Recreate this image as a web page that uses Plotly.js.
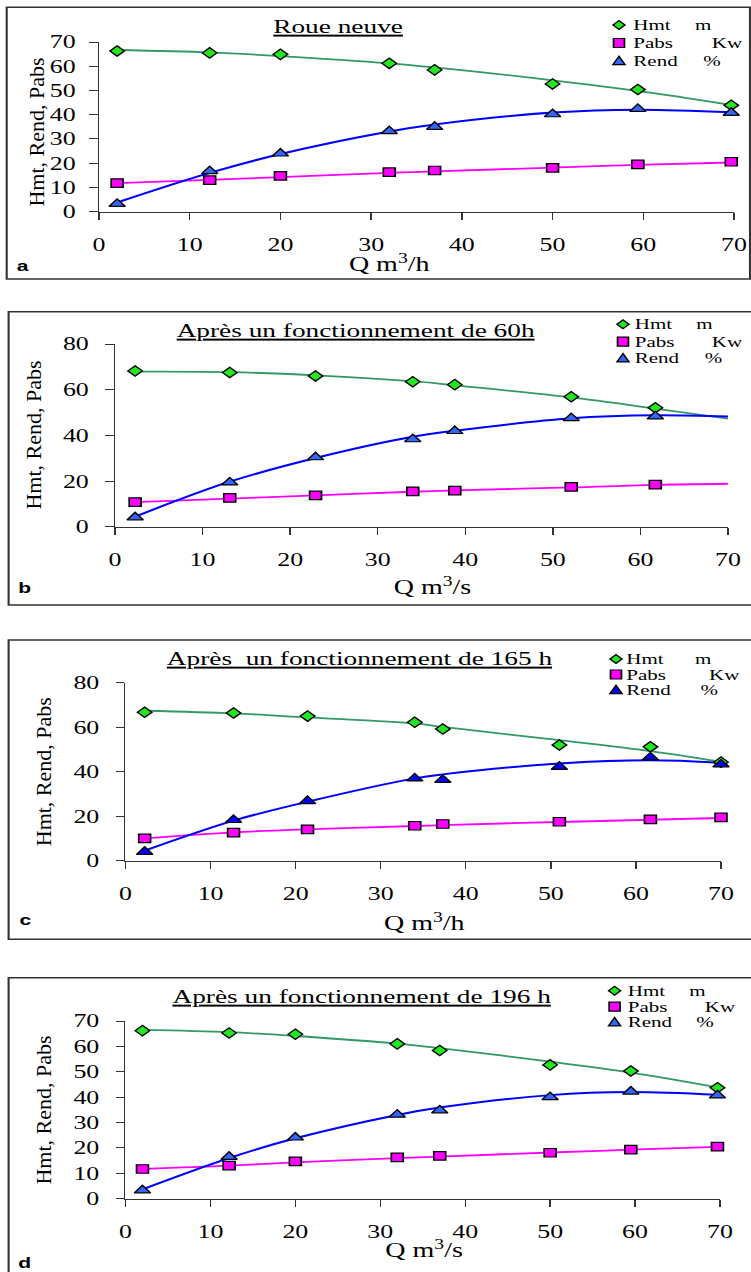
<!DOCTYPE html>
<html>
<head>
<meta charset="utf-8">
<script src="https://cdn.plot.ly/plotly-3.0.1.min.js"></script>
<style>
html,body{margin:0;padding:0;background:#fff;overflow:hidden;width:751px;height:1272px;}
#chart{position:absolute;left:0;top:0;transform-origin:0 0;}
</style>
</head>
<body>
<div id="chart"></div>
<script>
// ---------- DATA ----------
// Panel a : Roue neuve
const qA    = [2, 12.2, 20, 32, 37, 50, 59.4, 69.7];
const hmtA  = [66.3, 65.5, 64.9, 61.2, 58.5, 52.7, 50.4, 43.9];
const pabsA = [11.8, 13.0, 14.8, 16.3, 17.0, 18.1, 19.5, 20.6];
const rendA = [3.2, 16.7, 24.0, 33.2, 35.0, 40.2, 42.4, 40.8];
// trendlines of panel a (values read on the drawn curves)
const fitQA    = [2, 12.2, 20, 32, 37, 50, 59.4, 69.7];
const hmtFitA  = [66.7, 65.7, 64.2, 61.2, 59.5, 54.2, 49.8, 44.0];
const pabsFitA = [11.8, 13.1, 14.3, 16.0, 16.6, 18.2, 19.3, 20.3];
const rendFitA = [3.8, 16.0, 23.8, 33.1, 36.0, 40.9, 42.1, 41.0];

// Panel b : après 60 h
const qB    = [2.3, 13.1, 22.9, 34.0, 38.8, 52.1, 61.7];
const hmtB  = [68.2, 67.5, 66.0, 63.5, 62.2, 56.9, 52.1];
const pabsB = [10.8, 12.6, 13.7, 15.5, 15.8, 17.4, 18.4];
const rendB = [4.1, 19.4, 30.4, 38.3, 41.9, 47.5, 48.3];
const fitQB    = [2.3, 13.1, 22.9, 34, 38.8, 52.1, 61.7, 70];
const hmtFitB  = [67.9, 67.7, 66.3, 63.7, 61.9, 56.6, 51.7, 47.3];
const pabsFitB = [10.8, 12.3, 13.7, 15.3, 15.9, 17.2, 18.3, 18.8];
const rendFitB = [4.4, 19.7, 30.1, 39.4, 42.0, 47.5, 48.8, 48.2];

// Panel c : après 165 h
const qC    = [2.25, 12.7, 21.4, 34.0, 37.3, 51.0, 61.7, 70.0];
const hmtC  = [66.7, 66.4, 65.0, 62.2, 59.2, 52.0, 51.2, 44.3];
const pabsC = [10.0, 12.6, 14.1, 15.7, 16.5, 17.5, 18.6, 19.5];
const rendC = [4.0, 18.3, 26.8, 37.0, 36.3, 42.2, 46.4, 43.3];
const fitQC    = [2.25, 12.7, 21.4, 34, 37.3, 51, 61.7, 70];
const hmtFitC  = [67.4, 66.2, 64.4, 61.7, 60.1, 54.2, 49.3, 44.5];
const pabsFitC = [10.0, 12.7, 14.1, 15.6, 16.0, 17.4, 18.4, 19.2];
const rendFitC = [4.5, 18.0, 26.5, 37.0, 38.8, 43.7, 45.1, 44.0];

// Panel d : après 196 h
const qD    = [2, 12.2, 20, 32, 37, 50, 59.5, 69.7];
const hmtD  = [66.2, 65.3, 64.8, 61.0, 58.4, 52.7, 50.3, 43.7];
const pabsD = [11.7, 13.0, 14.7, 16.3, 16.9, 18.1, 19.3, 20.5];
const rendD = [3.3, 16.5, 24.1, 33.1, 34.8, 40.0, 42.2, 40.7];
const fitQD    = [2, 12.2, 20, 32, 37, 50, 59.5, 69.7];
const hmtFitD  = [66.5, 65.6, 64.1, 61.1, 59.3, 54.0, 49.7, 43.9];
const pabsFitD = [11.7, 13.0, 14.3, 16.0, 16.6, 18.2, 19.3, 20.4];
const rendFitD = [3.7, 16.0, 23.8, 33.0, 35.9, 40.8, 42.0, 40.9];

// axis tick values
const xTicks  = [0, 10, 20, 30, 40, 50, 60, 70];
const yTicks70 = [0, 10, 20, 30, 40, 50, 60, 70];
const yTicks80 = [0, 20, 40, 60, 80];

// legend texts
const seriesNames = ['Hmt', 'Pabs', 'Rend'];
const seriesUnits = ['m', 'Kw', '%'];

// ---------- LAYOUT / STYLE ----------
const WN = 536;            // natural width, stretched horizontally to 751
const S = 751 / WN;
const H = 1272;
const SERIF = 'Liberation Serif, Times New Roman, serif';
const AX = '#333333';
const GREEN_LINE = '#339966', GREEN_MK = '#22e822';
const MAG = '#ff00ff';
const BLUE_LINE = '#0000ff';

document.getElementById('chart').style.transform = 'scaleX(' + S + ')';
function px(x) { return x / 751; }
function py(y) { return 1 - y / H; }

const panels = [
  { sfx: '', q: qA, hmt: hmtA, pabs: pabsA, rend: rendA, fq: fitQA, fh: hmtFitA, fp: pabsFitA, fr: rendFitA,
    plot: [99, 734, 42, 211.7], yTicks: yTicks70, yStand: 6, frame: [6.7, 750, 7.3, 279],
    title: 'Roue neuve', tpos: [338, 26], xt: 'Q m<sup>3</sup>/h', xtpos: [390, 263],
    letter: 'a', lpos: [22.7, 265], ytp: [39, 132],
    leg: { sym: 619, name: 630, rows: [25, 43, 61], units: [692, 709.5, 700.5] }, rendMk: '#3366ff' },
  { sfx: '2', q: qB, hmt: hmtB, pabs: pabsB, rend: rendB, fq: fitQB, fh: hmtFitB, fp: pabsFitB, fr: rendFitB,
    plot: [115, 728, 344, 526.7], yTicks: yTicks80, yStand: 8, frame: [8.6, 753, 311.7, 605],
    title: 'Après un fonctionnement de 60h', tpos: [356, 330], xt: 'Q m<sup>3</sup>/s', xtpos: [432.5, 586],
    letter: 'b', lpos: [24, 587.5], ytp: [41.5, 435],
    leg: { sym: 623, name: 632, rows: [324.3, 341.7, 358.3], units: [693, 709, 701.5] }, rendMk: '#3366ff' },
  { sfx: '3', q: qC, hmt: hmtC, pabs: pabsC, rend: rendC, fq: fitQC, fh: hmtFitC, fp: pabsFitC, fr: rendFitC,
    plot: [125.5, 721, 682.7, 860.7], yTicks: yTicks80, yStand: 8, frame: [8.6, 753, 640, 939.3],
    title: 'Après\u00a0 un fonctionnement de 165 h', tpos: [360, 658], xt: 'Q m<sup>3</sup>/h', xtpos: [424, 922],
    letter: 'c', lpos: [25, 920], ytp: [51, 771.7],
    leg: { sym: 616, name: 623.5, rows: [659, 674.5, 690], units: [691.5, 706.5, 697.5] }, rendMk: '#0000ff' },
  { sfx: '4', q: qD, hmt: hmtD, pabs: pabsD, rend: rendD, fq: fitQD, fh: hmtFitD, fp: pabsFitD, fr: rendFitD,
    plot: [125.5, 720, 1021, 1198.7], yTicks: yTicks70, yStand: 8, frame: [8.6, 753, 977.7, 1290],
    title: 'Après un fonctionnement de 196 h', tpos: [362, 996.7], xt: 'Q m<sup>3</sup>/s', xtpos: [425, 1249],
    letter: 'd', lpos: [24, 1262], ytp: [51, 1110],
    leg: { sym: 614.6, name: 625, rows: [990.7, 1006.7, 1022.3], units: [686.5, 701.5, 693.5] }, rendMk: '#3366ff' }
];

const traces = [];
const layout = {
  width: WN, height: H,
  margin: { l: 0, r: 0, t: 0, b: 0, pad: 0 },
  paper_bgcolor: '#fff', plot_bgcolor: 'rgba(0,0,0,0)',
  showlegend: false,
  font: { family: SERIF, color: '#000', size: 16 },
  shapes: [], annotations: []
};

const DIAMOND = 'M0,4.4L4.3,0L0,-4.4L-4.3,0Z';
const SQUARE  = 'M-3.9,-4.5H3.9V4.5H-3.9Z';
const TRI     = 'M-4.3,-3.6H4.3L0,4.8Z';

panels.forEach(function (p) {
  const xa = 'x' + p.sfx, ya = 'y' + p.sfx;
  const common = { xaxis: xa, yaxis: ya, hoverinfo: 'skip', cliponaxis: false };
  // trendlines
  traces.push(Object.assign({ type: 'scatter', mode: 'lines', x: p.fq, y: p.fh, name: 'Hmt fit',
    line: { color: GREEN_LINE, width: 1.8, shape: 'spline', smoothing: 1 } }, common));
  traces.push(Object.assign({ type: 'scatter', mode: 'lines', x: p.fq, y: p.fp, name: 'Pabs fit',
    line: { color: MAG, width: 1.8, shape: 'spline', smoothing: 1 } }, common));
  traces.push(Object.assign({ type: 'scatter', mode: 'lines', x: p.fq, y: p.fr, name: 'Rend fit',
    line: { color: BLUE_LINE, width: 2, shape: 'spline', smoothing: 1 } }, common));
  // markers
  traces.push(Object.assign({ type: 'scatter', mode: 'markers', x: p.q, y: p.hmt, name: 'Hmt',
    marker: { symbol: 'diamond', size: 8, color: GREEN_MK, line: { color: '#000', width: 1.2 } } }, common));
  traces.push(Object.assign({ type: 'scatter', mode: 'markers', x: p.q, y: p.pabs, name: 'Pabs',
    marker: { symbol: 'square', size: 8.5, color: MAG, line: { color: '#000', width: 1.2 } } }, common));
  traces.push(Object.assign({ type: 'scatter', mode: 'markers', x: p.q, y: p.rend, name: 'Rend',
    marker: { symbol: 'triangle-up', size: 10, color: p.rendMk, line: { color: '#000', width: 1.2 } } }, common));

  const ymax = p.yTicks[p.yTicks.length - 1];
  layout['xaxis' + p.sfx] = {
    domain: [px(p.plot[0]), px(p.plot[1])], anchor: ya,
    range: [0, 70], tickvals: xTicks, ticktext: xTicks.map(String),
    ticks: 'outside', ticklen: 7, tickwidth: 1, tickcolor: AX,
    showline: true, linecolor: AX, linewidth: 1, showgrid: false, zeroline: false,
    tickfont: { family: SERIF, size: 18.5, color: '#000' }, ticklabelstandoff: 9, fixedrange: true
  };
  layout['yaxis' + p.sfx] = {
    domain: [py(p.plot[3]), py(p.plot[2])], anchor: xa,
    range: [0, ymax], tickvals: p.yTicks, ticktext: p.yTicks.map(String),
    ticks: 'outside', ticklen: 6, tickwidth: 1, tickcolor: AX,
    showline: true, linecolor: AX, linewidth: 1, showgrid: false, zeroline: false,
    tickfont: { family: SERIF, size: 18.5, color: '#000' }, ticklabelstandoff: p.yStand, fixedrange: true,
    title: { text: 'Hmt, Rend, Pabs', font: { family: SERIF, size: 22, color: '#000' } }
  };
  // frame
  layout.shapes.push({ type: 'rect', xref: 'paper', yref: 'paper', layer: 'below',
    x0: px(p.frame[0]), x1: px(p.frame[1]), y0: py(p.frame[3]), y1: py(p.frame[2]),
    line: { color: AX, width: 1.5 }, fillcolor: 'rgba(0,0,0,0)' });
  // title
  layout.annotations.push({ xref: 'paper', yref: 'paper', x: px(p.tpos[0]), y: py(p.tpos[1]),
    xanchor: 'center', yanchor: 'middle', showarrow: false, text: p.title,
    font: { family: SERIF, size: 19.5, color: '#000', lineposition: 'under' } });
  // x title
  layout.annotations.push({ xref: 'paper', yref: 'paper', x: px(p.xtpos[0]), y: py(p.xtpos[1]),
    xanchor: 'center', yanchor: 'middle', showarrow: false, text: p.xt,
    font: { family: SERIF, size: 20, color: '#000' } });
  // panel letter
  layout.annotations.push({ xref: 'paper', yref: 'paper', x: px(p.lpos[0]), y: py(p.lpos[1]),
    xanchor: 'center', yanchor: 'middle', showarrow: false, text: '<b>' + p.letter + '</b>',
    font: { family: 'Liberation Sans, Arial, sans-serif', size: 15, color: '#000' } });
  // legend
  const symPaths = [DIAMOND, SQUARE, TRI];
  const symFills = [GREEN_MK, MAG, p.rendMk];
  for (let k = 0; k < 3; k++) {
    layout.shapes.push({ type: 'path', xref: 'paper', yref: 'paper', xsizemode: 'pixel', ysizemode: 'pixel',
      xanchor: px(p.leg.sym), yanchor: py(p.leg.rows[k]), path: symPaths[k],
      fillcolor: symFills[k], line: { color: '#000', width: 1.2 } });
    layout.annotations.push({ xref: 'paper', yref: 'paper', x: px(p.leg.name), y: py(p.leg.rows[k]),
      xanchor: 'left', yanchor: 'middle', showarrow: false, text: seriesNames[k],
      font: { family: SERIF, size: 15, color: '#000' } });
    layout.annotations.push({ xref: 'paper', yref: 'paper', x: px(p.leg.units[k]), y: py(p.leg.rows[k]),
      xanchor: 'left', yanchor: 'middle', showarrow: false, text: seriesUnits[k],
      font: { family: SERIF, size: 15, color: '#000' } });
  }
});

Plotly.newPlot('chart', traces, layout, { staticPlot: true, displayModeBar: false }).then(function (gd) {
  // vertical axis titles are not stretched in the reference: counter-scale them
  ['ytitle', 'y2title', 'y3title', 'y4title'].forEach(function (cls, i) {
    const el = gd.querySelector('text.' + cls);
    if (!el) return;
    const X = panels[i].ytp[0] / S, Y = panels[i].ytp[1];
    el.setAttribute('x', X);
    el.setAttribute('y', Y);
    el.setAttribute('transform', 'translate(' + X + ',' + Y + ') scale(' + (1 / S) + ',1) translate(' + (-X) + ',' + (-Y) + ') rotate(-90,' + X + ',' + Y + ')');
  });
});
</script>
</body>
</html>
